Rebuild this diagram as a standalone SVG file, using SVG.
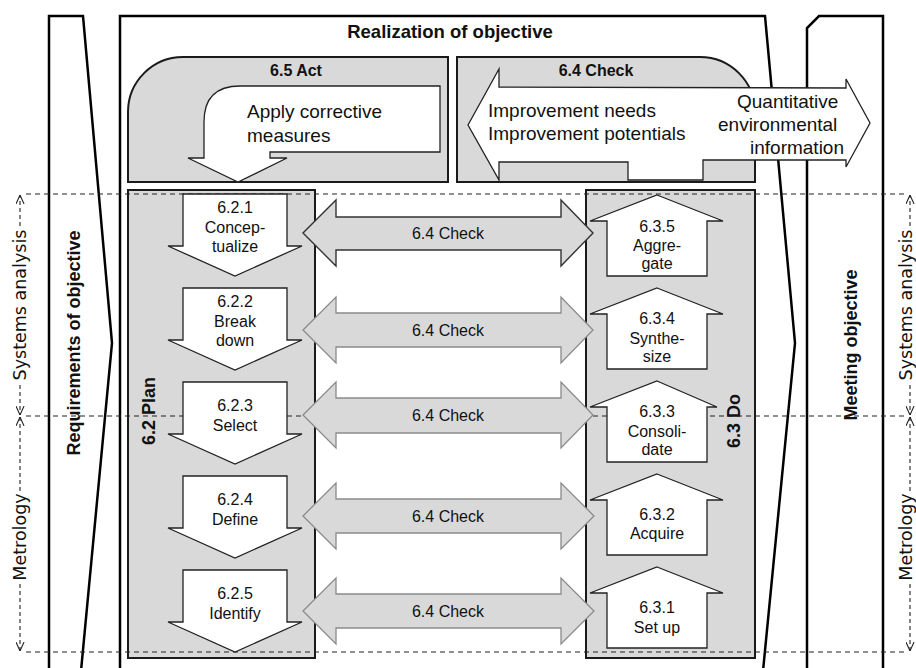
<svg xmlns="http://www.w3.org/2000/svg" width="916" height="668" viewBox="0 0 916 668">
<defs>
<style>
.out{fill:#fff;stroke:#000;stroke-width:2.5;stroke-linejoin:miter}
.panel{fill:#d9d9d9;stroke:#1a1a1a;stroke-width:2}
.wa{fill:#fff;stroke:#222;stroke-width:1.3;stroke-linejoin:miter}
.chk{fill:#d9d9d9;stroke:#8a8a8a;stroke-width:1.3}
.chk1{fill:#d9d9d9;stroke:#333;stroke-width:1.4}
.hd{stroke:#222;stroke-width:1.2;stroke-dasharray:5 4;fill:none}
.vd{stroke:#222;stroke-width:1.1;stroke-dasharray:4 3;fill:none}
text{font-family:"Liberation Sans",Arial,sans-serif;fill:#111}
.b{font-weight:bold}
.s16{font-size:16px}
.s19{font-size:19px}
.s18b{font-size:18px;font-weight:bold}
.dim{font-family:"DejaVu Sans",Verdana,sans-serif;font-size:17.5px}
.m{text-anchor:middle}
</style>
<marker id="ah" viewBox="0 0 10 10" refX="10" refY="5" markerWidth="9" markerHeight="9" markerUnits="userSpaceOnUse" orient="auto-start-reverse">
<path d="M0,0.5 L10,5 L0,9.5" fill="none" stroke="#222" stroke-width="1.2"/>
</marker>
</defs>

<g id="requirements">
<polygon class="out" points="49,16 83,16 112,343 81,671 49,671"/>
<text class="s18b m" transform="translate(80,343) rotate(-90)">Requirements of objective</text>
</g>

<g id="realization">
<polygon class="out" points="120,16 765,16 795,343 763,671 120,671"/>
<text class="b m" style="font-size:18.5px" x="450" y="38">Realization of objective</text>
</g>

<g id="meeting">
<polygon class="out" points="807,671 807,28 819,16 883,16 883,671"/>
<text class="s18b m" transform="translate(857,345) rotate(-90)">Meeting objective</text>
</g>

<g id="act">
<path class="panel" d="M128,112 A55,55 0 0 1 183,57 L448,57 L448,182 L128,182 Z"/>
<text class="b s16 m" x="296" y="76">6.5 Act</text>
<path class="wa" d="M440,86 L240,86 Q204,86 204,122 L204,158 L188,158 L238,182 L287,158 L270,158 L270,152 L440,152 Z"/>
<text class="s19" x="247" y="118">Apply corrective</text>
<text class="s19" x="247" y="142">measures</text>
</g>

<g id="check">
<path class="panel" d="M457,57 L700,57 A55,55 0 0 1 755,112 L755,182 L457,182 Z"/>
<text class="b s16 m" x="596" y="76">6.4 Check</text>
<path class="wa" d="M468,125 L499,69 L499,87 L846,88 L846,79 L870,123 L846,167 L846,160 L703,160 L703,180 L628,180 L628,162 L499,162 L499,180 Z"/>
<text class="s19" x="488" y="117">Improvement needs</text>
<text class="s19" x="488" y="140">Improvement potentials</text>
<text class="s19" x="737" y="108">Quantitative</text>
<text class="s19" x="718" y="131">environmental</text>
<text class="s19" x="750" y="154">information</text>
</g>

<g id="plan">
<rect class="panel" x="128" y="190" width="187" height="468"/>
<text class="s18b m" transform="translate(155,411) rotate(-90)">6.2 Plan</text>
</g>

<g id="do">
<rect class="panel" x="586" y="190" width="169" height="468"/>
<text class="s18b m" transform="translate(740,421) rotate(-90)">6.3 Do</text>
</g>

<g id="levels">
<line class="hd" x1="26" y1="194" x2="905" y2="194"/>
<line class="hd" x1="26" y1="416" x2="905" y2="416"/>
<line class="hd" x1="26" y1="652" x2="905" y2="652"/>
</g>

<g id="plan-steps">
<g id="s621">
<polygon class="wa" points="183,194 287,194 287,246 302,246 235,276 168,246 183,246"/>
<text class="s16 m" x="235" y="213">6.2.1</text>
<text class="s16 m" x="235" y="233">Concep-</text>
<text class="s16 m" x="235" y="252">tualize</text>
</g>
<g id="s622">
<polygon class="wa" points="183,288 287,288 287,340 302,340 235,370 168,340 183,340"/>
<text class="s16 m" x="235" y="307">6.2.2</text>
<text class="s16 m" x="235" y="327">Break</text>
<text class="s16 m" x="235" y="346">down</text>
</g>
<g id="s623">
<polygon class="wa" points="183,382 287,382 287,434 302,434 235,464 168,434 183,434"/>
<text class="s16 m" x="235" y="411">6.2.3</text>
<text class="s16 m" x="235" y="431">Select</text>
</g>
<g id="s624">
<polygon class="wa" points="183,476 287,476 287,528 302,528 235,558 168,528 183,528"/>
<text class="s16 m" x="235" y="505">6.2.4</text>
<text class="s16 m" x="235" y="525">Define</text>
</g>
<g id="s625">
<polygon class="wa" points="183,570 287,570 287,622 302,622 235,652 168,622 183,622"/>
<text class="s16 m" x="235" y="599">6.2.5</text>
<text class="s16 m" x="235" y="619">Identify</text>
</g>
</g>

<g id="do-steps">
<g id="s635">
<polygon class="wa" points="657,195 723,221 707,221 707,276 607,276 607,221 590,221"/>
<text class="s16 m" x="657" y="232">6.3.5</text>
<text class="s16 m" x="657" y="251">Aggre-</text>
<text class="s16 m" x="657" y="269">gate</text>
</g>
<g id="s634">
<polygon class="wa" points="657,288 723,314 707,314 707,369 607,369 607,314 590,314"/>
<text class="s16 m" x="657" y="324">6.3.4</text>
<text class="s16 m" x="657" y="344">Synthe-</text>
<text class="s16 m" x="657" y="362">size</text>
</g>
<g id="s633">
<polygon class="wa" points="657,381 717,407 707,407 707,462 607,462 607,407 590,407"/>
<text class="s16 m" x="657" y="417">6.3.3</text>
<text class="s16 m" x="657" y="437">Consoli-</text>
<text class="s16 m" x="657" y="455">date</text>
</g>
<g id="s632">
<polygon class="wa" points="657,474 723,500 707,500 707,555 607,555 607,500 590,500"/>
<text class="s16 m" x="657" y="520">6.3.2</text>
<text class="s16 m" x="657" y="539">Acquire</text>
</g>
<g id="s631">
<polygon class="wa" points="657,567 723,593 707,593 707,648 607,648 607,593 590,593"/>
<text class="s16 m" x="657" y="613">6.3.1</text>
<text class="s16 m" x="657" y="633">Set up</text>
</g>
</g>

<g id="connectors">
<polygon class="chk1" points="303,233 336,200 336,217 561,217 561,200 593,233 561,266 561,250 336,250 336,266"/>
<polygon class="chk" points="303,330 336,297 336,313 561,313 561,297 593,330 561,363 561,347 336,347 336,363"/>
<polygon class="chk" points="303,415 336,382 336,398 561,398 561,382 593,415 561,448 561,433 336,433 336,448"/>
<polygon class="chk" points="303,516 336,483 336,499 561,499 561,483 594,516 561,549 561,533 336,533 336,549"/>
<polygon class="chk" points="303,611 336,578 336,594 561,594 561,578 594,611 561,644 561,628 336,628 336,644"/>
<text class="s16 m" x="448" y="239">6.4 Check</text>
<text class="s16 m" x="448" y="336">6.4 Check</text>
<text class="s16 m" x="448" y="421">6.4 Check</text>
<text class="s16 m" x="448" y="522">6.4 Check</text>
<text class="s16 m" x="448" y="617">6.4 Check</text>
</g>

<g id="dimensions">
<line class="vd" x1="20" y1="226" x2="20" y2="195" marker-end="url(#ah)"/>
<line class="vd" x1="20" y1="385" x2="20" y2="415" marker-end="url(#ah)"/>
<line class="vd" x1="20" y1="491" x2="20" y2="417" marker-end="url(#ah)"/>
<line class="vd" x1="20" y1="584" x2="20" y2="651" marker-end="url(#ah)"/>
<text class="dim m" transform="translate(26,305) rotate(-90)">Systems analysis</text>
<text class="dim m" transform="translate(26,537) rotate(-90)">Metrology</text>
<line class="vd" x1="910" y1="226" x2="910" y2="195" marker-end="url(#ah)"/>
<line class="vd" x1="910" y1="385" x2="910" y2="415" marker-end="url(#ah)"/>
<line class="vd" x1="910" y1="491" x2="910" y2="417" marker-end="url(#ah)"/>
<line class="vd" x1="910" y1="584" x2="910" y2="651" marker-end="url(#ah)"/>
<text class="dim m" transform="translate(912,305) rotate(-90)">Systems analysis</text>
<text class="dim m" transform="translate(912,537) rotate(-90)">Metrology</text>
</g>
</svg>
